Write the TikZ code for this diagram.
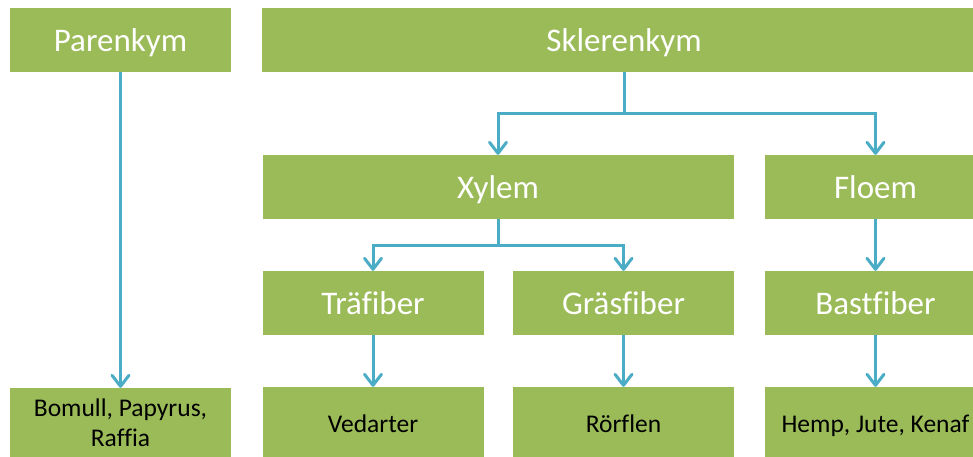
\documentclass[tikz,border=0pt]{standalone}
\usepackage{fontspec}
\setmainfont[Ligatures={NoCommon}]{Carlito}
\usetikzlibrary{arrows.meta}
\definecolor{boxgreen}{HTML}{9BBB59}
\definecolor{linkblue}{HTML}{4BACC6}
\tikzset{
  x=1pt, y=1pt,
  gbox/.style={rectangle, fill=boxgreen, draw=none, inner sep=0pt, minimum height=64pt, minimum width=221pt},
  toptext/.style={text=white, font=\fontsize{33}{38}\selectfont, text height=23pt, text depth=0pt},
  lowbox/.style={rectangle, fill=boxgreen, draw=none, inner sep=0pt, minimum height=70pt, minimum width=221pt, text=black, align=center, font=\fontsize{25.5}{30}\selectfont},
  onel/.style={text height=20.4pt, text depth=0pt},
  arr/.style={draw=linkblue, line width=3pt, -{Straight Barb[round, length=11pt, width=17pt]}},
  lnk/.style={draw=linkblue, line width=3pt, line join=round}
}
\begin{document}
\begin{tikzpicture}
\clip (0,0) rectangle (973,-457);
\node[gbox, toptext] (par) at (120.5,-40) {Parenkym};
\node[gbox, toptext, minimum width=724pt] (skl) at (624,-40) {Sklerenkym};
\node[gbox, toptext, minimum width=471pt] (xyl) at (498,-187) {Xylem};
\node[gbox, toptext] (flo) at (875.5,-187) {Floem};
\node[gbox, toptext] (tra) at (373,-303) {Träfiber};
\node[gbox, toptext] (gra) at (623.5,-303) {Gräsfiber};
\node[gbox, toptext] (bas) at (875.5,-303) {Bastfiber};
\node[lowbox] (bom) at (120.5,-423) {Bomull, Papyrus,\\Raffia};
\node[lowbox, onel] (ved) at (373,-422) {Vedarter};
\node[lowbox, onel] (ror) at (623.5,-422) {Rörflen};
\node[lowbox, onel] (hem) at (875.5,-422) {Hemp, Jute, Kenaf};
% connectors
\draw[arr] (par.south) -- (bom.north);
\coordinate (sj) at ([yshift=-41pt]skl.south);
\draw[lnk] (skl.south) -- (sj);
\draw[arr] (sj) -| (xyl.north);
\draw[arr] (sj) -| (flo.north);
\coordinate (xj) at ([yshift=-26pt]xyl.south);
\draw[lnk] (xyl.south) -- (xj);
\draw[arr] (xj) -| (tra.north);
\draw[arr] (xj) -| (gra.north);
\draw[arr] (flo.south) -- (bas.north);
\draw[arr] (tra.south) -- (ved.north);
\draw[arr] (gra.south) -- (ror.north);
\draw[arr] (bas.south) -- (hem.north);
\end{tikzpicture}
\end{document}
